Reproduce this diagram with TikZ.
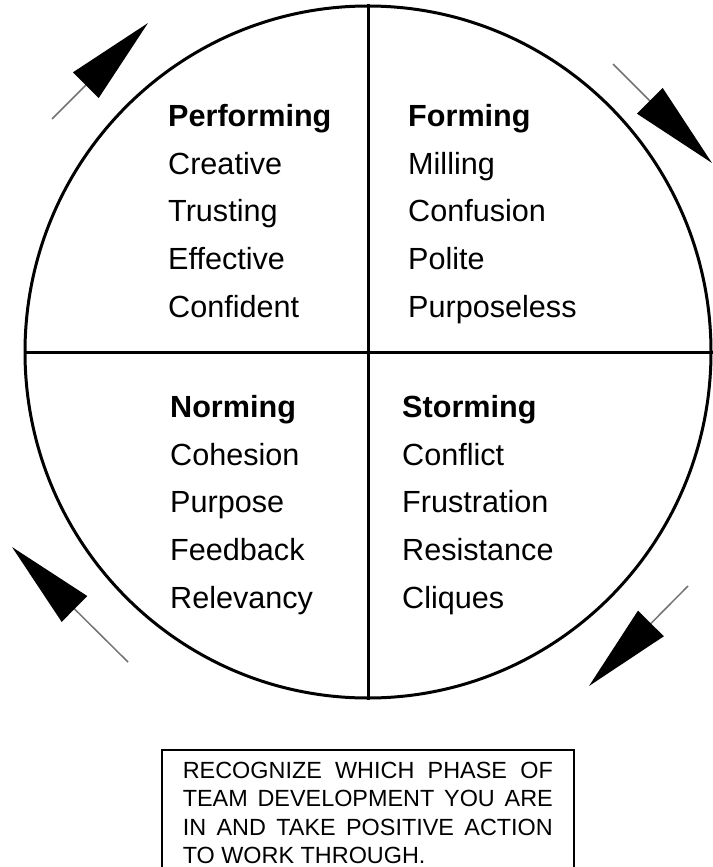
\documentclass[tikz,border=0pt]{standalone}
\usepackage{fontspec}
\setmainfont{Liberation Sans}
\usetikzlibrary{positioning,arrows.meta,shapes.geometric}

\begin{document}
\begin{tikzpicture}[
    x=1pt, y=-1pt,
    wheel/.style={ellipse, draw, line width=3pt, inner sep=0pt, minimum width=686pt, minimum height=692pt},
    divider/.style={line width=3pt},
    phase/.style={anchor=north west, inner sep=0pt, align=left, font=\fontsize{30.6}{47.8}\selectfont},
    cycle arrow/.style={draw=black!55, line width=1.5pt, -{Triangle[length=88pt, width=36pt, color=black]}},
    note/.style={draw, line width=1.6pt, anchor=north west, text width=370pt, align=justify, inner xsep=21pt, inner ysep=12pt, font=\fontsize{23.4}{28.6}\selectfont},
  ]
  \useasboundingbox (0,0) rectangle (712,867);
  \node[wheel] (wheel) at (368,352) {};
  \draw[divider] (wheel.north) -- (wheel.south);
  \draw[divider] (wheel.west) -- (wheel.east);
  \node[phase] (performing) at (168,104) {\textbf{Performing}\\Creative\\Trusting\\Effective\\Confident};
  \node[phase] (forming) at (408,104) {\textbf{Forming}\\Milling\\Confusion\\Polite\\Purposeless};
  \node[phase] (norming) at (170,395) {\textbf{Norming}\\Cohesion\\Purpose\\Feedback\\Relevancy};
  \node[phase] (storming) at (402,395) {\textbf{Storming}\\Conflict\\Frustration\\Resistance\\Cliques};
  % arrows round the wheel
  \coordinate (tl tail) at (52,119);
  \coordinate (tl tip) at (148,23);
  \coordinate (tr tail) at (613,64);
  \coordinate (tr tip) at (712,163);
  \coordinate (br tail) at (688,586);
  \coordinate (br tip) at (589,686);
  \coordinate (bl tail) at (128,662);
  \coordinate (bl tip) at (12,547);
  \draw[cycle arrow] (tl tail) -- (tl tip);
  \draw[cycle arrow] (tr tail) -- (tr tip);
  \draw[cycle arrow] (br tail) -- (br tip);
  \draw[cycle arrow] (bl tail) -- (bl tip);
  \node[note] (advice) at (161,749) {RECOGNIZE WHICH PHASE OF\linebreak TEAM DEVELOPMENT YOU ARE\linebreak IN AND TAKE POSITIVE ACTION\linebreak TO WORK THROUGH.};
\end{tikzpicture}
\end{document}
